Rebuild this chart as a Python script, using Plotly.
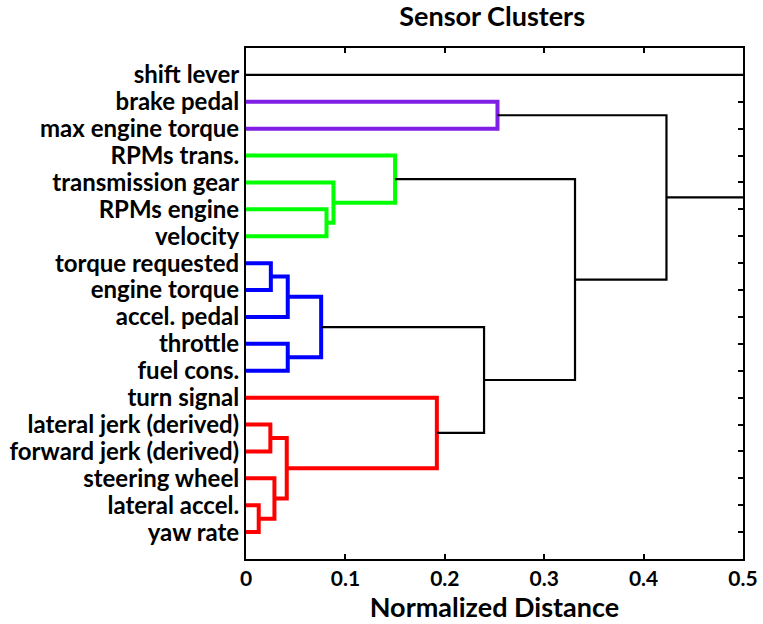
import plotly.graph_objects as go

# Leaf labels, top to bottom
leaf_labels = ["shift lever", "brake pedal", "max engine torque", "RPMs trans.",
               "transmission gear", "RPMs engine", "velocity", "torque requested",
               "engine torque", "accel. pedal", "throttle", "fuel cons.", "turn signal",
               "lateral jerk (derived)", "forward jerk (derived)", "steering wheel",
               "lateral accel.", "yaw rate"]

# Linkage: node ids 0..17 are leaves, 18+ are merges in this order
merge_left = [1, 5, 4, 3, 7, 22, 10, 23, 16, 15, 13, 28, 12, 25, 21, 18, 0]
merge_right = [2, 6, 19, 20, 8, 9, 11, 24, 17, 26, 14, 27, 29, 30, 31, 32, 33]
merge_height = [0.253, 0.081, 0.088, 0.150, 0.025, 0.042, 0.042, 0.0756, 0.0128,
                0.0286, 0.0245, 0.041, 0.192, 0.2395, 0.331, 0.423, 0.56]
merge_group = ["purple", "green", "green", "green", "blue", "blue", "blue", "blue",
               "red", "red", "red", "red", "red", "black", "black", "black", "black"]

x_tick_vals = [0, 0.1, 0.2, 0.3, 0.4, 0.5]
x_tick_text = ["0", "0.1", "0.2", "0.3", "0.4", "0.5"]

colors = {"purple": "#7F1FE6", "green": "#00FF00", "blue": "#0000FF",
          "red": "#FF0000", "black": "#000000"}
widths = {"purple": 4, "green": 4, "blue": 4, "red": 4, "black": 2.2}

n_leaves = len(leaf_labels)
pos_y = {i: i + 1 for i in range(n_leaves)}
pos_x = {i: 0.0 for i in range(n_leaves)}

fig = go.Figure()
for k, (a, b, h, g) in enumerate(zip(merge_left, merge_right, merge_height, merge_group)):
    node = n_leaves + k
    xs = [pos_x[a], h, h, pos_x[b]]
    ys = [pos_y[a], pos_y[a], pos_y[b], pos_y[b]]
    fig.add_trace(go.Scatter(x=xs, y=ys, mode="lines",
                             line=dict(color=colors[g], width=widths[g]),
                             hoverinfo="skip", showlegend=False))
    pos_x[node] = h
    pos_y[node] = (pos_y[a] + pos_y[b]) / 2

font_family = "Lato, 'Open Sans', sans-serif"

fig.update_layout(
    width=763, height=624,
    margin=dict(l=246, r=20, t=48, b=65, autoexpand=False),
    plot_bgcolor="white", paper_bgcolor="white",
    title=dict(text="Sensor Clusters", x=0.645, xanchor="center", y=0.973, yanchor="middle",
               font=dict(family=font_family, size=27, color="black", weight="bold")),
)
fig.update_xaxes(
    range=[0, 0.5], tickvals=x_tick_vals, ticktext=x_tick_text,
    ticks="inside", ticklen=5, tickwidth=2, tickcolor="black",
    showline=True, linecolor="black", linewidth=2, mirror="ticks",
    showgrid=False, zeroline=False, layer="below traces", automargin=False,
    tickfont=dict(family=font_family, size=21, color="black", weight="bold"),
    title=dict(text="Normalized Distance", standoff=2,
               font=dict(family=font_family, size=27, color="black", weight="bold")),
)
fig.update_yaxes(
    range=[19, 0], tickvals=list(range(1, n_leaves + 1)), ticktext=leaf_labels,
    ticks="inside", ticklen=5, tickwidth=2, tickcolor="black",
    showline=True, linecolor="black", linewidth=2, mirror="ticks",
    showgrid=False, zeroline=False, layer="below traces", automargin=False,
    tickfont=dict(family=font_family, size=24, color="black", weight="bold"),
)

fig.write_html("out.html", config={"displayModeBar": False},
               post_script="document.body.style.margin='0';document.body.style.overflow='hidden';")
